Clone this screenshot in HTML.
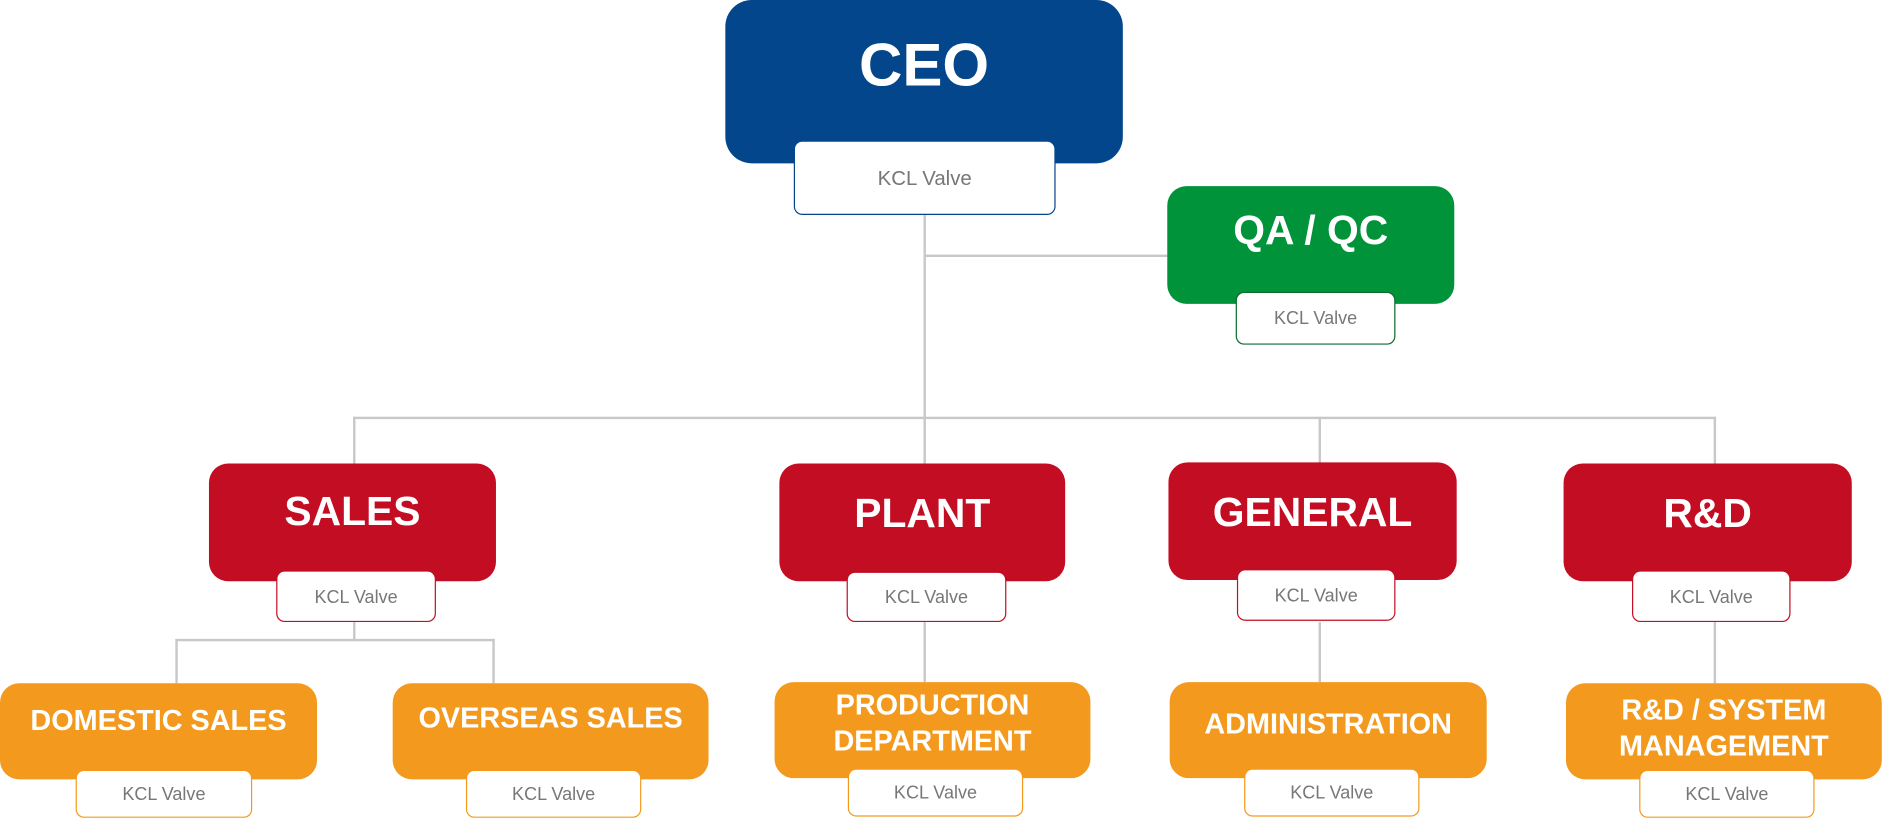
<!DOCTYPE html>
<html><head><meta charset="utf-8"><style>
html,body{margin:0;padding:0;background:#fff;width:1883px;height:819px;overflow:hidden}
#w{position:absolute;left:0;top:0;width:1568px;height:682px;transform:scale(1.20089);transform-origin:0 0;font-family:"Liberation Sans","Noto Sans CJK KR",sans-serif}
.b{position:absolute;border-radius:16px;color:#fff;font-weight:bold;text-align:center;box-sizing:border-box}
.s{position:absolute;background:#fff;border-radius:7px;border:1.5px solid;box-sizing:border-box;color:#777;font-size:15px;text-align:center}
.l{position:absolute;background:#c8c8c8}
.r{background:#C30D23}.o{background:#F39A1E}
.t{position:absolute;left:0;right:0}
</style></head><body><div id="w">
<!-- lines -->
<div class="l" style="left:769px;top:179px;width:2px;height:207px"></div>
<div class="l" style="left:770px;top:212px;width:202px;height:2px"></div>
<div class="l" style="left:294px;top:347px;width:1135px;height:2px"></div>
<div class="l" style="left:294px;top:347px;width:2px;height:39px"></div>
<div class="l" style="left:1098px;top:347px;width:2px;height:39px"></div>
<div class="l" style="left:1427px;top:347px;width:2px;height:39px"></div>
<div class="l" style="left:294px;top:518px;width:2px;height:15px"></div>
<div class="l" style="left:146px;top:532px;width:266px;height:2px"></div>
<div class="l" style="left:146px;top:532px;width:2px;height:37px"></div>
<div class="l" style="left:410px;top:532px;width:2px;height:37px"></div>
<div class="l" style="left:769px;top:518px;width:2px;height:50px"></div>
<div class="l" style="left:1098px;top:518px;width:2px;height:50px"></div>
<div class="l" style="left:1427px;top:518px;width:2px;height:51px"></div>
<!-- CEO -->
<div class="b" style="left:604px;top:0;width:331px;height:136px;background:#03468C;border-radius:22px;font-size:50px"><div class="t" style="top:25px">CEO</div></div>
<div class="s" style="left:661px;top:117px;width:218px;height:62px;border-color:#03468C;font-size:17px;line-height:62px">KCL Valve</div>
<!-- QA -->
<div class="b" style="left:972px;top:155px;width:239px;height:98px;background:#009339;font-size:34px"><div class="t" style="top:18px">QA / QC</div></div>
<div class="s" style="left:1029px;top:243px;width:133px;height:44px;border-color:#0a6b2e;line-height:44px">KCL Valve</div>
<!-- red -->
<div class="b r" style="left:174px;top:386px;width:239px;height:98px;font-size:34px"><div class="t" style="top:21px">SALES</div></div>
<div class="s" style="left:230px;top:475px;width:133px;height:43px;border-color:#C30D23;line-height:43px">KCL Valve</div>
<div class="b r" style="left:649px;top:386px;width:238px;height:98px;font-size:34px"><div class="t" style="top:23px">PLANT</div></div>
<div class="s" style="left:705px;top:476px;width:133px;height:42px;border-color:#C30D23;line-height:42px">KCL Valve</div>
<div class="b r" style="left:973px;top:385px;width:240px;height:98px;font-size:34px"><div class="t" style="top:23px">GENERAL</div></div>
<div class="s" style="left:1030px;top:474px;width:132px;height:43px;border-color:#C30D23;line-height:43px">KCL Valve</div>
<div class="b r" style="left:1302px;top:386px;width:240px;height:98px;font-size:34px"><div class="t" style="top:23px">R&amp;D</div></div>
<div class="s" style="left:1359px;top:475px;width:132px;height:43px;border-color:#C30D23;line-height:43px">KCL Valve</div>
<!-- orange -->
<div class="b o" style="left:0;top:569px;width:264px;height:80px;font-size:24px"><div class="t" style="top:18px">DOMESTIC SALES</div></div>
<div class="s" style="left:63px;top:641px;width:147px;height:40px;border-color:#F39A1E;line-height:40px">KCL Valve</div>
<div class="b o" style="left:327px;top:569px;width:263px;height:80px;font-size:24px"><div class="t" style="top:16px">OVERSEAS SALES</div></div>
<div class="s" style="left:388px;top:641px;width:146px;height:40px;border-color:#F39A1E;line-height:40px">KCL Valve</div>
<div class="b o" style="left:645px;top:568px;width:263px;height:80px;font-size:24px;line-height:30px"><div class="t" style="top:5px">PRODUCTION<br>DEPARTMENT</div></div>
<div class="s" style="left:706px;top:640px;width:146px;height:40px;border-color:#F39A1E;line-height:40px">KCL Valve</div>
<div class="b o" style="left:974px;top:568px;width:264px;height:80px;font-size:24px"><div class="t" style="top:22px">ADMINISTRATION</div></div>
<div class="s" style="left:1036px;top:640px;width:146px;height:40px;border-color:#F39A1E;line-height:40px">KCL Valve</div>
<div class="b o" style="left:1304px;top:569px;width:263px;height:80px;font-size:24px;line-height:30px"><div class="t" style="top:8px">R&amp;D / SYSTEM<br>MANAGEMENT</div></div>
<div class="s" style="left:1365px;top:641px;width:146px;height:40px;border-color:#F39A1E;line-height:40px">KCL Valve</div>
</div></body></html>
